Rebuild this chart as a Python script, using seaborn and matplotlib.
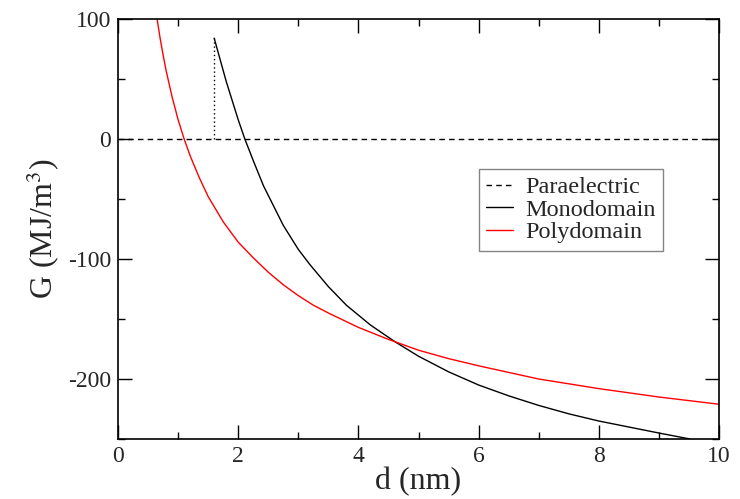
import matplotlib
matplotlib.use("Agg")
import matplotlib.pyplot as plt
import seaborn as sns
import pandas as pd
from matplotlib.ticker import MultipleLocator

# ---- data ----
para_d = [0.0, 10.0]
para_G = [0.0, 0.0]

mono_d = [1.6, 1.7, 1.8, 1.9, 2.0, 2.11, 2.25, 2.42, 2.6, 2.75, 3.0, 3.19, 3.5, 3.8,
          4.2, 4.61, 5.0, 5.5, 6.0, 6.5, 7.0, 7.5, 8.0, 8.5, 9.0, 9.52]
mono_G = [84, 66, 48, 32, 16, 0, -18, -39, -57, -72, -92, -104.5, -123, -138.5,
          -155, -169, -181, -194, -205, -214, -222, -229, -235, -240, -245, -250]

poly_d = [0.65, 0.70, 0.75, 0.80, 0.90, 1.0, 1.1, 1.2, 1.35, 1.5, 1.75, 2.0, 2.25,
          2.5, 2.75, 3.0, 3.25, 3.5, 4.0, 4.5, 5.0, 5.5, 6.0, 7.0, 8.0, 9.0, 10.0]
poly_G = [100, 84, 70, 57, 35, 16, 0, -14, -32, -48, -69, -86, -99,
          -111, -121.5, -130.5, -138.5, -145, -157, -167, -176, -183, -189, -200,
          -208, -215, -221]

labels = ["Paraelectric", "Monodomain", "Polydomain"]
x_ticks = [0, 2, 4, 6, 8, 10]
y_ticks = [-200, -100, 0, 100]

# ---- styling ----
sns.set_style("ticks")
plt.rcParams["font.family"] = ["Liberation Serif", "DejaVu Serif"]
plt.rcParams["mathtext.fontset"] = "stix"
plt.rcParams["axes.unicode_minus"] = False

fig = plt.figure(figsize=(7.40, 4.99), dpi=100)
ax = fig.add_axes([0.1595, 0.1202, 0.8121, 0.8418])

df_para = pd.DataFrame({"d": para_d, "G": para_G})
df_mono = pd.DataFrame({"d": mono_d, "G": mono_G})
df_poly = pd.DataFrame({"d": poly_d, "G": poly_G})

sns.lineplot(data=df_para, x="d", y="G", ax=ax, color="black", lw=1.0,
             linestyle=(0, (4, 3)), sort=False, estimator=None, label=labels[0])
sns.lineplot(data=df_mono, x="d", y="G", ax=ax, color="black", lw=1.0,
             sort=False, estimator=None, label=labels[1])
sns.lineplot(data=df_poly, x="d", y="G", ax=ax, color="#ff0000", lw=1.0,
             sort=False, estimator=None, label=labels[2])
# dotted vertical line at start of monodomain branch
ax.plot([mono_d[0], mono_d[0]], [para_G[0], mono_G[0]], color="black",
        lw=1.0, linestyle=(0, (1, 2)))

ax.set_xlim(0, 10)
ax.set_ylim(-250, 100)
ax.set_xticks(x_ticks)
ax.set_yticks(y_ticks)
ax.xaxis.set_minor_locator(MultipleLocator(1))
ax.yaxis.set_minor_locator(MultipleLocator(50))
ax.tick_params(which="both", direction="in", top=True, right=True,
               width=1.0, color="black", labelsize=17, pad=5)
ax.tick_params(which="major", length=10)
ax.tick_params(which="minor", length=5)
for s in ax.spines.values():
    s.set_linewidth(1.2)
    s.set_color("black")

ax.set_xlabel("d (nm)", fontsize=23, labelpad=0)
ax.set_ylabel(r"G (MJ/m$^3$)", fontsize=23, labelpad=4)

leg = ax.legend(loc="upper left", bbox_to_anchor=(0.6007, 0.643), fontsize=17.5,
                frameon=True, fancybox=False, handlelength=1.1,
                handletextpad=0.5, borderpad=0.3, labelspacing=0.02,
                borderaxespad=0)
leg.get_frame().set_edgecolor("#666666")
leg.get_frame().set_linewidth(1.0)

fig.savefig("out.png", dpi=100)
